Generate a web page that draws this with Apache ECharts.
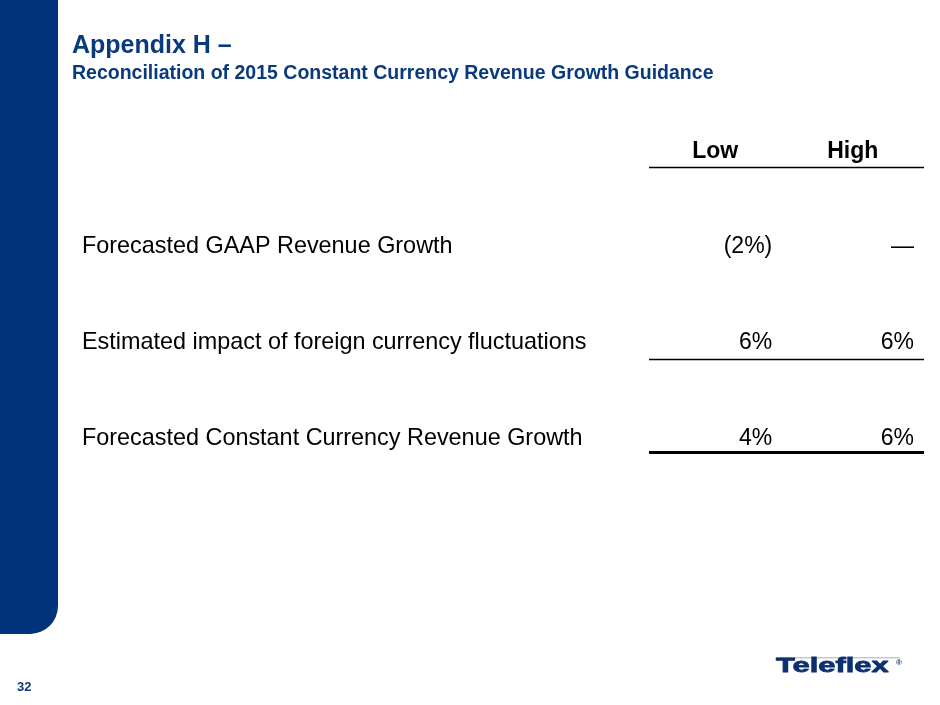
<!DOCTYPE html>
<html>
<head>
<meta charset="utf-8">
<script src="https://cdn.jsdelivr.net/npm/echarts@6/dist/echarts.min.js"></script>
<style>
  html, body { margin: 0; padding: 0; background: #ffffff; }
  #chart { width: 940px; height: 705px; }
</style>
</head>
<body>
<div id="chart"></div>
<script>
// ---- Data ----
const titleText = 'Appendix H \u2013';
const subtitleText = 'Reconciliation of 2015 Constant Currency Revenue Growth Guidance';
const columns = ['Low', 'High'];
const rowLabels = [
  'Forecasted GAAP Revenue Growth',
  'Estimated impact of foreign currency fluctuations',
  'Forecasted Constant Currency Revenue Growth'
];
const lowValues = [-2, 6, 4];
const highValues = [0, 6, 6];
const ruleRows = [0, 2, 3];      // rows with a rule beneath them
const pageNumber = '32';
const brandText = 'Teleflex';

// ---- Styling ----
const NAVY = '#0a3a7e';
const SIDEBAR = '#00337a';
const FONT = '"Liberation Sans", Arial, Helvetica, sans-serif';

function fmtPct(v) {
  if (v === 0) return '\u2014';
  if (v < 0) return '(' + Math.abs(v) + '%)';
  return v + '%';
}

const chart = echarts.init(document.getElementById('chart'), null, { renderer: 'canvas' });

const valueLabel = (offX) => ({
  show: true,
  position: 'inside',
  align: 'right',
  verticalAlign: 'middle',
  offset: [offX, 0],
  color: '#000',
  opacity: 1,
  fontFamily: FONT,
  fontSize: 23,
  formatter: (p) => fmtPct(p.value[2])
});

const option = {
  animation: false,
  backgroundColor: '#ffffff',
  grid: {
    left: 649, right: 16, top: 151, bottom: 171,
    containLabel: false,
    outerBoundsMode: 'none'
  },
  xAxis: {
    type: 'category',
    data: columns,
    boundaryGap: true,
    show: true,
    axisLine: { show: false },
    axisTick: { show: false },
    axisLabel: { show: false },
    splitLine: { show: false }
  },
  yAxis: {
    type: 'value',
    inverse: true,
    min: 0,
    max: 4,
    interval: 1,
    axisLine: { show: false },
    axisTick: { show: false },
    splitLine: { show: false },
    axisLabel: {
      show: true,
      align: 'left',
      margin: 567,
      color: '#000',
      fontFamily: FONT,
      fontSize: 23.4,
      formatter: (v) => (v >= 1 && v <= rowLabels.length) ? rowLabels[v - 1] : ''
    }
  },
  series: [
    {
      name: 'header',
      type: 'scatter',
      symbolSize: 0,
      silent: true,
      itemStyle: { opacity: 1 },
      data: columns.map((c) => [c, 0]),
      label: {
        show: true,
        position: 'inside',
        align: 'center',
        verticalAlign: 'middle',
        offset: [-2.5, 0.5],
        color: '#000',
        opacity: 1,
        fontFamily: FONT,
        fontWeight: 'bold',
        fontSize: 23,
        formatter: (p) => p.value[0]
      },
      markLine: {
        silent: true,
        symbol: 'none',
        label: { show: false },
        lineStyle: { color: '#000', type: 'solid', width: 1.3, opacity: 1 },
        data: ruleRows.map((r, i) => ({
          yAxis: r + (i === ruleRows.length - 1 ? 0.155 : 0.17),
          lineStyle: { color: '#000', type: 'solid', opacity: 1, width: i === ruleRows.length - 1 ? 3 : 1.3 }
        }))
      }
    },
    {
      name: 'Low',
      type: 'scatter',
      symbolSize: 0,
      silent: true,
      itemStyle: { opacity: 1 },
      data: lowValues.map((v, i) => [columns[0], i + 1, v]),
      label: valueLabel(54.5)
    },
    {
      name: 'High',
      type: 'scatter',
      symbolSize: 0,
      silent: true,
      itemStyle: { opacity: 1 },
      data: highValues.map((v, i) => [columns[1], i + 1, v]),
      label: valueLabel(58.8)
    }
  ],
  graphic: [
    {
      type: 'rect',
      silent: true,
      shape: { x: 0, y: -40, width: 58, height: 674, r: [0, 0, 28, 0] },
      style: { fill: SIDEBAR }
    },
    {
      type: 'text',
      silent: true,
      style: {
        text: titleText, x: 72, y: 45.7,
        font: 'bold 25px ' + FONT, fill: NAVY,
        textAlign: 'left', textVerticalAlign: 'middle'
      }
    },
    {
      type: 'text',
      silent: true,
      style: {
        text: subtitleText, x: 72, y: 73.3,
        font: 'bold 19.5px ' + FONT, fill: NAVY,
        textAlign: 'left', textVerticalAlign: 'middle'
      }
    },
    {
      type: 'text',
      silent: true,
      style: {
        text: pageNumber, x: 17, y: 687,
        font: 'bold 13px ' + FONT, fill: NAVY,
        textAlign: 'left', textVerticalAlign: 'middle'
      }
    },
    {
      type: 'line',
      silent: true,
      shape: { x1: 776, y1: 657.8, x2: 900, y2: 657.8 },
      style: { stroke: '#8e98ad', lineWidth: 0.8 }
    },
    {
      type: 'text',
      silent: true,
      x: 776, y: 666.5, scaleX: 1.47,
      style: {
        text: brandText, x: 0, y: 0,
        font: '900 21px ' + FONT, fill: '#0b2f70',
        textAlign: 'left', textVerticalAlign: 'middle',
        stroke: '#0b2f70', lineWidth: 0.8
      }
    },
    {
      type: 'text',
      silent: true,
      style: {
        text: '\u00AE', x: 896, y: 663,
        font: 'bold 8px ' + FONT, fill: '#0b2f70',
        textAlign: 'left', textVerticalAlign: 'middle'
      }
    }
  ]
};

chart.setOption(option);
</script>
</body>
</html>
